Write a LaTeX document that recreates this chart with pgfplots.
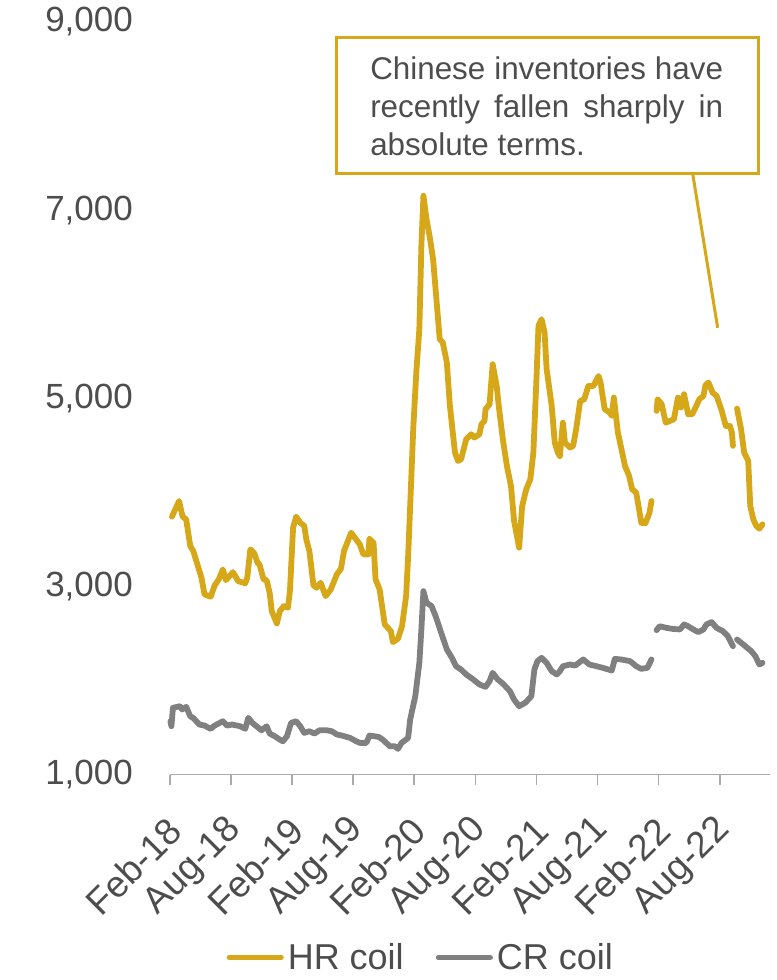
\documentclass[border=0pt]{standalone}
\usepackage{pgfplots}
\usepackage{pgfplotstable}
\pgfplotsset{compat=1.18}
\usepackage{fontspec}
\setmainfont{Liberation Sans}
\definecolor{hrgold}{RGB}{214,167,24}
\definecolor{crgray}{RGB}{128,128,128}
\definecolor{txt}{RGB}{77,77,77}
\definecolor{axgray}{RGB}{170,170,170}

\pgfplotstableread{
m v
0.2 3742
0.9 3908
1.25 3742
1.6 3713
2.0 3429
2.3 3376
3.1 3093
3.4 2915
4.0 2890
4.4 3011
4.8 3075
5.2 3181
5.5 3067
6.2 3152
6.7 3057
7.4 3032
7.6 3093
7.9 3394
8.3 3351
8.6 3252
8.8 3234
9.2 3075
9.5 3067
9.8 2932
10.0 2738
10.5 2607
10.8 2738
11.2 2791
11.6 2774
11.8 2968
12.1 3625
12.4 3742
12.8 3678
13.2 3642
13.4 3500
13.7 3376
14.1 3011
14.4 2986
14.8 3039
15.3 2897
15.8 2968
16.4 3128
16.8 3188
17.1 3376
17.8 3571
18.65 3447
19.0 3341
19.5 3341
19.6 3508
20.0 3465
20.2 3075
20.6 2968
21.1 2596
21.7 2525
21.9 2408
22.4 2444
22.8 2578
23.2 2897
23.4 3323
23.6 3855
23.9 4671
24.2 5274
24.5 5735
24.7 6621
24.9 7153
25.2 6905
25.5 6727
25.85 6480
26.5 5629
26.8 5593
27.2 5380
27.5 4919
28.0 4423
28.3 4334
28.6 4352
29.1 4564
29.6 4618
29.9 4582
30.4 4618
30.6 4724
30.9 4759
31.0 4884
31.4 4937
31.7 5362
32.1 5131
32.3 4919
32.7 4564
33.1 4280
33.5 4068
33.8 3700
34.3 3412
34.6 3855
35.0 4033
35.4 4139
35.7 4423
36.0 5204
36.2 5770
36.5 5841
36.8 5700
37.0 5310
37.5 4919
37.8 4529
38.1 4423
38.3 4385
38.6 4741
38.8 4529
39.3 4476
39.6 4494
39.9 4671
40.3 4972
40.7 4990
41.1 5131
41.6 5131
42.1 5237
42.3 5167
42.7 4884
43.2 4848
43.4 4813
43.6 5008
44.0 4636
44.7 4280
45.1 4174
45.4 4033
45.8 3997
46.3 3676
46.7 3671
47.1 3782
47.3 3908
47.5 nan
47.8 4866
47.9 4990
48.3 4937
48.7 4741
49.1 4759
49.5 4777
49.9 5008
50.2 4902
50.5 5043
50.9 4830
51.3 4830
51.7 4919
52.0 4990
52.4 5025
52.6 5139
52.9 5167
53.3 5060
53.7 5025
54.2 4866
54.6 4706
55.0 4706
55.2 4636
55.3 4494
55.5 nan
55.7 4891
56.1 4671
56.4 4423
56.8 4334
57.0 3855
57.3 3713
57.6 3642
57.9 3614
58.2 3660
}\hrdata

\pgfplotstableread{
m v
0.05 1567
0.15 1514
0.3 1710
1.0 1727
1.2 1692
1.6 1720
2.0 1620
2.3 1601
2.9 1532
3.4 1521
4.0 1486
4.4 1521
5.2 1567
5.6 1521
6.1 1532
6.9 1514
7.4 1486
7.7 1603
8.1 1550
8.5 1514
9.0 1471
9.5 1514
9.8 1436
10.3 1408
10.8 1372
11.1 1354
11.5 1408
11.9 1550
12.4 1567
12.8 1514
13.2 1443
13.7 1461
14.2 1436
14.7 1471
15.4 1471
15.9 1461
16.4 1426
16.9 1415
17.7 1390
18.3 1354
18.65 1337
19.3 1337
19.6 1415
20.5 1401
20.9 1372
21.6 1301
22.1 1301
22.4 1273
22.75 1337
23.4 1390
23.6 1585
24.1 1833
24.5 2188
24.7 2543
24.9 2950
25.2 2827
25.7 2791
26.1 2684
26.7 2490
27.2 2330
27.7 2241
28.1 2152
28.6 2117
29.1 2064
29.8 2011
30.4 1958
31.0 1933
31.4 1993
31.7 2082
32.2 2011
32.7 1968
33.4 1886
33.8 1798
34.3 1727
34.9 1763
35.5 1833
35.8 2117
36.1 2206
36.5 2241
37.0 2188
37.5 2099
38.0 2064
38.3 2099
38.6 2152
39.3 2170
39.8 2159
40.6 2224
41.2 2170
41.9 2152
42.5 2135
43.4 2106
43.7 2230
44.3 2224
45.2 2206
45.8 2152
46.3 2124
46.9 2135
47.3 2224
47.5 nan
47.8 2535
48.1 2577
48.8 2559
49.4 2548
50.1 2543
50.5 2596
50.9 2577
51.4 2543
51.9 2514
52.4 2543
52.7 2596
53.2 2621
53.7 2559
54.3 2525
54.8 2472
55.3 2365
55.5 nan
55.7 2436
56.1 2401
56.6 2357
57.1 2312
57.5 2259
57.9 2170
58.2 2188
}\crdata

\begin{document}
\begin{tikzpicture}
\begin{axis}[
  scale only axis,
  width=300pt, height=376.5pt,
  xmin=0, xmax=58.9,
  ymin=1000, ymax=9000,
  clip=false,
  unbounded coords=jump,
  axis x line*=bottom,
  axis y line*=left,
  y axis line style={draw=none},
  x axis line style={draw=axgray, line width=0.8pt},
  ytick={1000,3000,5000,7000,9000},
  ytick style={draw=none},
  xtick={0,6,12,18,24,30,36,42,48,54},
  xticklabels={Feb-18,Aug-18,Feb-19,Aug-19,Feb-20,Aug-20,Feb-21,Aug-21,Feb-22,Aug-22},
  xtick style={draw=axgray, line width=0.8pt},
  tick align=outside,
  major tick length=5pt,
  /pgf/number format/assume math mode=true,
  /pgf/number format/1000 sep={,},
  yticklabel style={font=\fontsize{17.5}{20}\selectfont, text=txt, anchor=east, xshift=-10pt},
  xticklabel style={font=\fontsize{18.5}{20}\selectfont, text=txt, rotate=45, anchor=east, xshift=-9pt, yshift=-16pt},
  legend style={at={(0.42,-0.243)}, anchor=center, draw=none, fill=none,
     legend columns=2, font=\fontsize{18}{20}\selectfont, text=txt,
     /tikz/every even column/.append style={column sep=14pt}},
  legend image code/.code={\draw[#1, line width=2.6pt, line cap=round] (0pt,0pt) -- (26pt,0pt);},
]
\addplot[hrgold, line width=2.9pt, line cap=round, line join=round] table[x=m, y=v] {\hrdata};
\addlegendentry{HR coil}
\addplot[crgray, line width=2.9pt, line cap=round, line join=round] table[x=m, y=v] {\crdata};
\addlegendentry{CR coil}

\draw[hrgold, line width=1.5pt] (axis cs:51.35,7385) -- (axis cs:53.8,5749);
\draw[hrgold, line width=1.5pt, fill=white] (axis cs:16.4,7385) rectangle (axis cs:57.83,8840);
\node[anchor=north west, inner sep=0pt, text width=176.5pt, align=justify, text=txt,
      font=\fontsize{15.7}{19}\selectfont] at (axis cs:19.64,8630)
  {Chinese inventories have recently fallen sharply in absolute terms.};

\coordinate (bbl) at (rel axis cs:-0.2833,-0.2722);
\coordinate (btr) at (rel axis cs:1.0117,1.0292);
\end{axis}
\path (bbl) rectangle (btr);
\end{tikzpicture}
\end{document}
